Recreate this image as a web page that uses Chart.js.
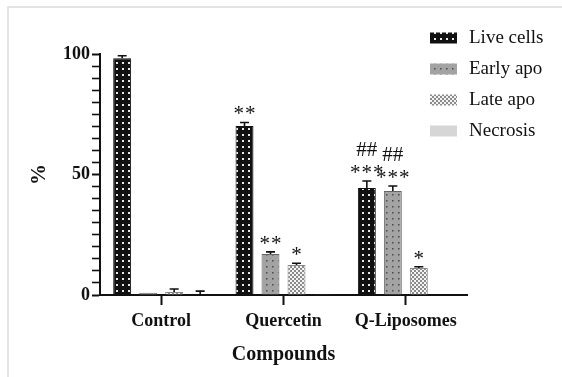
<!DOCTYPE html>
<html>
<head>
<meta charset="utf-8">
<script src="https://cdn.jsdelivr.net/npm/chart.js@4.4.1/dist/chart.umd.min.js"></script>
<style>
  html, body { margin: 0; padding: 0; background: #fff; }
  #wrap { position: relative; width: 562px; height: 377px; overflow: hidden; }
  #frame { position: absolute; left: 7px; top: 6px; width: 600px; height: 400px;
           border-left: 2px solid #e4e4e4; border-top: 2px solid #e4e4e4; }
  #chart { position: absolute; left: 0; top: 0; }
</style>
</head>
<body>
<div id="wrap">
  <div id="frame"></div>
  <canvas id="chart" width="562" height="377"></canvas>
</div>
<script>
// data (% of cells, mean + SD)
const categories = ["Control", "Quercetin", "Q-Liposomes"];
const seriesNames = ["Live cells", "Early apo", "Late apo", "Necrosis"];

const liveCells = [98.2, 70.1, 44.4];
const liveErr = [1.1, 1.5, 2.9];
const earlyApo = [0.9, 17.0, 43.2];
const earlyErr = [0, 0.9, 2.0];
const lateApo = [1.2, 12.4, 11.2];
const lateErr = [1.3, 0.8, 0.5];
const necrosis = [0.2, 0.3, null];
const necrosisErr = [1.4, 0, 0];

// significance marks
const liveStars = ["", "**", "***"];
const liveHash = ["", "", "##"];
const earlyStars = ["", "**", "***"];
const earlyHash = ["", "", "##"];
const lateStars = ["", "*", "*"];
const necrosisStars = ["", "", ""];
const noHash = ["", "", ""];

const yTickLabels = [0, 50, 100];

const ink = "#111";
const serif = "'Liberation Serif', 'Times New Roman', serif";

function makePattern(size, paint) {
  const c = document.createElement("canvas");
  c.width = c.height = size;
  paint(c.getContext("2d"));
  return c.getContext("2d").createPattern(c, "repeat");
}

const livePat = makePattern(6, (g) => {
  g.fillStyle = "#111"; g.fillRect(0, 0, 6, 6);
  g.fillStyle = "#e8e8e8"; g.fillRect(2, 2, 2, 2);
});
const earlyPat = makePattern(6, (g) => {
  g.fillStyle = "#a3a3a3"; g.fillRect(0, 0, 6, 6);
  g.fillStyle = "#4a4a4a"; g.fillRect(2, 2, 1.5, 1.5);
});
const latePat = makePattern(4, (g) => {
  g.fillStyle = "#f4f4f4"; g.fillRect(0, 0, 4, 4);
  g.fillStyle = "#8a8a8a"; g.fillRect(0, 0, 2, 2); g.fillRect(2, 2, 2, 2);
});
const necrosisFill = "#d6d6d6";

const errorBars = {
  id: "errorBars",
  afterDatasetsDraw(chart) {
    const { ctx } = chart;
    const y = chart.scales.y;
    ctx.save();
    chart.data.datasets.forEach((ds, di) => {
      const meta = chart.getDatasetMeta(di);
      meta.data.forEach((bar, i) => {
        const v = ds.data[i];
        if (v == null) return;
        const e = ds.errors[i] || 0;
        const cap = y.getPixelForValue(v + e);
        if (e) {
          ctx.strokeStyle = ink;
          ctx.lineWidth = 1.6;
          ctx.beginPath();
          ctx.moveTo(bar.x, bar.y);
          ctx.lineTo(bar.x, cap);
          ctx.moveTo(bar.x - 4.5, cap);
          ctx.lineTo(bar.x + 4.5, cap);
          ctx.stroke();
        }
        ctx.fillStyle = ink;
        ctx.textAlign = "center";
        ctx.textBaseline = "alphabetic";
        if (ds.stars[i]) {
          ctx.font = "21px " + serif;
          ctx.letterSpacing = "1px";
          ctx.fillText(ds.stars[i], bar.x + 0.5, cap - 2);
          ctx.letterSpacing = "0px";
        }
        if (ds.hashes[i]) {
          ctx.font = "21px " + serif;
          ctx.fillText(ds.hashes[i], bar.x, cap - 25);
        }
      });
    });
    ctx.restore();
  },
};

const sideLegend = {
  id: "sideLegend",
  afterDraw(chart) {
    const { ctx } = chart;
    ctx.save();
    chart.data.datasets.forEach((ds, i) => {
      const cy = 38 + i * 31;
      ctx.fillStyle = ds.backgroundColor;
      ctx.fillRect(430, cy - 5.5, 27, 11);
      ctx.fillStyle = ink;
      ctx.font = "19px " + serif;
      ctx.textAlign = "left";
      ctx.textBaseline = "middle";
      ctx.fillText(ds.label, 469, cy);
    });
    ctx.restore();
  },
};

const mk = (i, data, errors, stars, hashes, fill, border) => ({
  label: seriesNames[i],
  data,
  errors,
  stars,
  hashes,
  backgroundColor: fill,
  borderColor: border,
  borderWidth: 1,
  categoryPercentage: 0.85,
  barPercentage: 0.69,
});

new Chart(document.getElementById("chart"), {
  type: "bar",
  data: {
    labels: categories,
    datasets: [
      mk(0, liveCells, liveErr, liveStars, liveHash, livePat, "#111"),
      mk(1, earlyApo, earlyErr, earlyStars, earlyHash, earlyPat, "#666"),
      mk(2, lateApo, lateErr, lateStars, noHash, latePat, "#888"),
      mk(3, necrosis, necrosisErr, necrosisStars, noHash, necrosisFill, "#bbb"),
    ],
  },
  options: {
    responsive: false,
    animation: false,
    layout: { padding: { top: 54, right: 95, left: 0, bottom: 0 } },
    plugins: {
      legend: { display: false },
      tooltip: { enabled: false },
    },
    scales: {
      x: {
        offset: true,
        border: { color: ink, width: 2 },
        grid: { drawOnChartArea: false, offset: false, tickLength: 10, tickColor: ink, tickWidth: 2 },
        ticks: { color: ink, padding: 6, font: { family: serif, size: 18, weight: "bold" } },
        title: {
          display: true,
          text: "Compounds",
          color: ink,
          font: { family: serif, size: 20, weight: "bold" },
          padding: { top: 0, bottom: 10 },
        },
        afterFit: (s) => { s.height = 82; },
      },
      y: {
        min: 0,
        max: 100,
        border: { color: ink, width: 2 },
        grid: {
          drawOnChartArea: false,
          tickLength: 8,
          tickColor: ink,
          tickWidth: (c) => (yTickLabels.includes(c.tick.value) ? 2 : 1.6),
        },
        ticks: {
          stepSize: 5,
          autoSkip: false,
          padding: 2,
          color: ink,
          font: { family: serif, size: 18, weight: "bold" },
          callback: (v) => (yTickLabels.includes(v) ? String(v) : ""),
        },
        title: {
          display: true,
          text: "%",
          color: ink,
          font: { family: serif, size: 21, weight: "bold" },
          padding: { top: 27, bottom: 0 },
        },
        afterFit: (s) => { s.width = 100; },
      },
    },
  },
  plugins: [errorBars, sideLegend],
});
</script>
</body>
</html>
